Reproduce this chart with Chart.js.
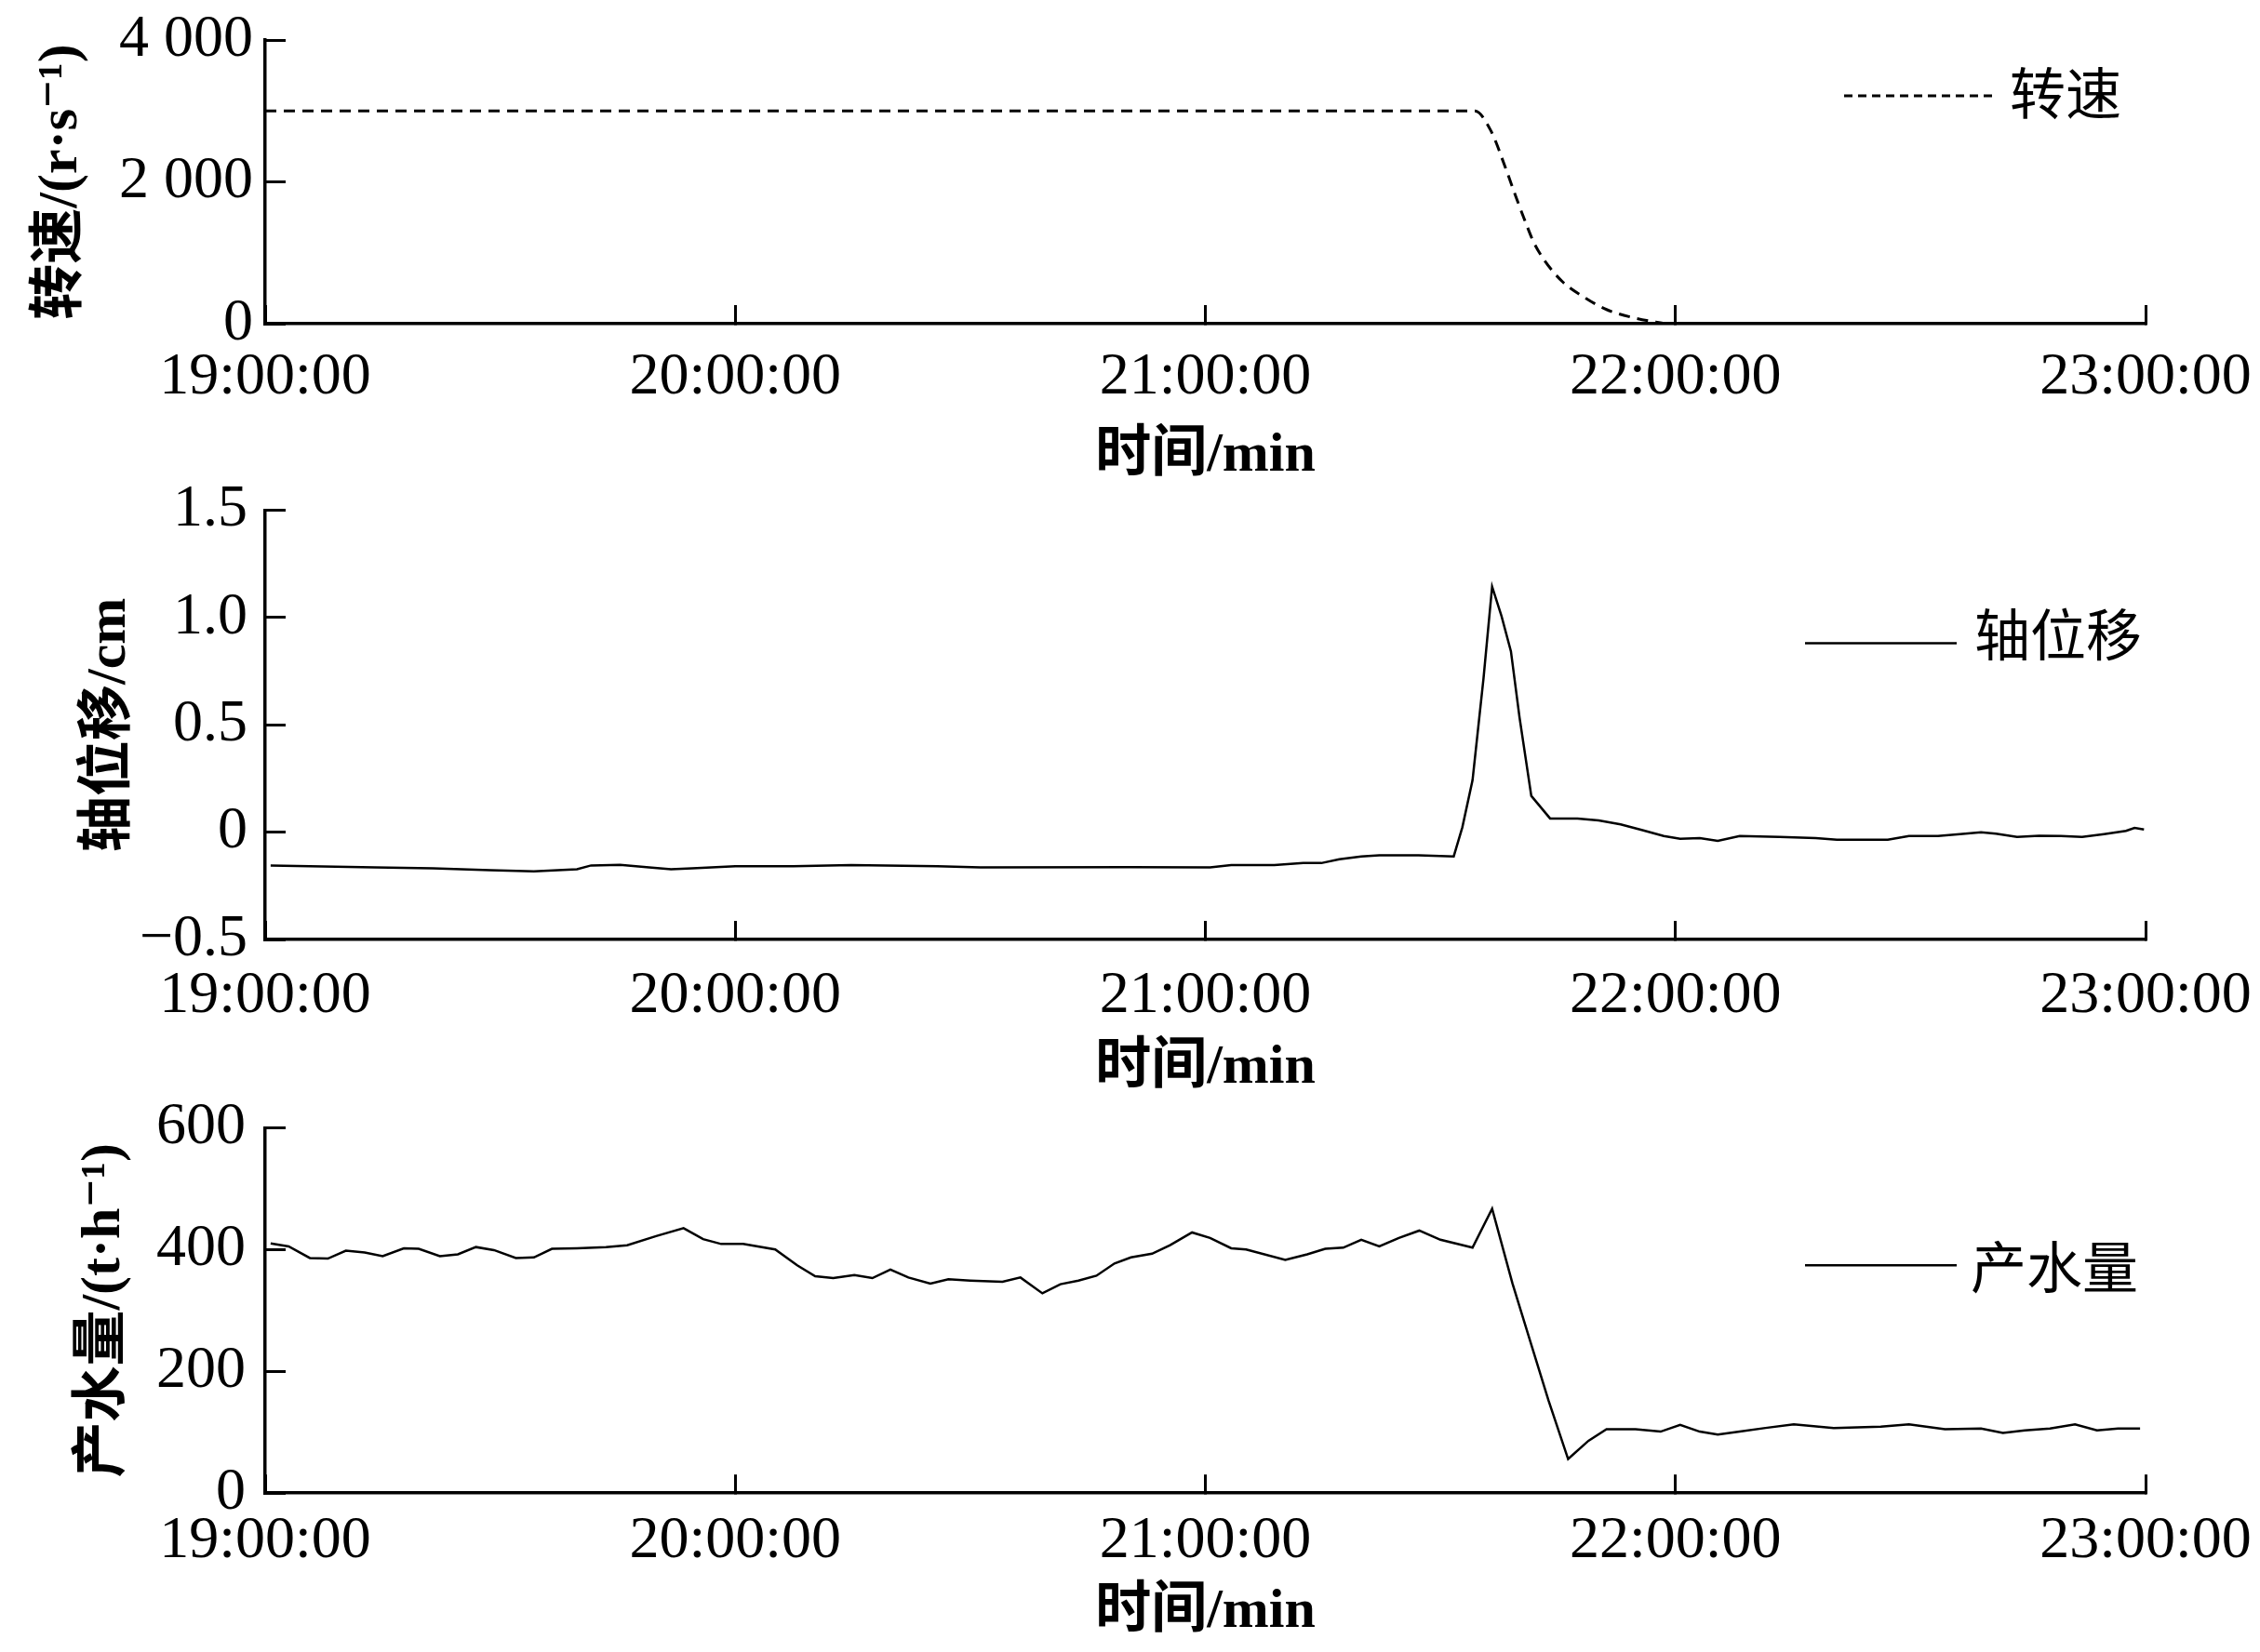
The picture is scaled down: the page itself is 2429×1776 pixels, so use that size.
<!DOCTYPE html>
<html>
<head>
<meta charset="utf-8">
<script src="https://cdn.jsdelivr.net/npm/chart.js@4.4.1/dist/chart.umd.min.js"></script>
<style>
  html, body { margin: 0; padding: 0; background: #fff; }
  #wrap { position: relative; width: 2429px; height: 1776px; background: #fff; }
  canvas { position: absolute; left: 0; }
</style>
</head>
<body>
<div id="wrap">
  <canvas id="speed" width="2429" height="526" style="top:0px"></canvas>
  <canvas id="disp" width="2429" height="684" style="top:500px"></canvas>
  <canvas id="flow" width="2429" height="602" style="top:1167px"></canvas>
</div>
<script>
// three stacked panels sharing the 19:00–23:00 time axis (minutes from 19:00)

const timeTickLabels = ['19:00:00', '20:00:00', '21:00:00', '22:00:00', '23:00:00'];

// 转速
const speedTimes  = [0, 154.4, 156.4, 158.3, 159.7, 160.9, 161.9, 163.3, 165.6, 168.4, 171.2, 174.8, 178.8];
const speedValues = [3000, 3000, 2730, 2200, 1770, 1420, 1150, 890, 590, 370, 200, 80, 0];
const speedTickLabels = ['0', '2 000', '4 000'];

// 轴位移
const dispTimes = [0.7, 14, 21.4, 28.7, 34.3, 39.8, 41.6, 45.3, 49, 51.8,
  54.5, 60, 67.4, 74.8, 85.8, 91.3, 110.4, 120.6, 123.3, 128.8,
  132.5, 134.8, 137.1, 139.9, 142.2, 147.2, 151.7, 152.8, 154.1, 155.5,
  156.6, 157.8, 159.0, 160.1, 161.6, 164.0, 167.5, 170.2, 173.0, 175.8,
  178.5, 180.6, 183.1, 185.4, 188.2, 193.3, 197.9, 200.6, 207.1, 209.8,
  213.5, 216.3, 219.0, 220.9, 223.6, 226.4, 229.2, 231.9, 234.7, 237.5,
  238.6, 239.8];
const dispValues = [-0.155, -0.164, -0.168, -0.177, -0.182, -0.173, -0.155, -0.152, -0.164, -0.173,
  -0.168, -0.159, -0.159, -0.153, -0.159, -0.164, -0.163, -0.164, -0.153, -0.153,
  -0.144, -0.144, -0.126, -0.113, -0.108, -0.108, -0.113, 0.023, 0.242, 0.716,
  1.144, 1.007, 0.843, 0.534, 0.169, 0.064, 0.064, 0.055, 0.036, 0.009,
  -0.018, -0.031, -0.028, -0.040, -0.018, -0.022, -0.028, -0.035, -0.035, -0.018,
  -0.018, -0.009, 0.000, -0.007, -0.022, -0.017, -0.018, -0.022, -0.009, 0.006,
  0.020, 0.013];
const dispTickLabels = ['\u22120.5', '0', '0.5', '1.0', '1.5'];

// 产水量
const flowTimes = [0.7, 3, 5.7, 8, 10.3, 12.7, 15, 17.7, 19.6, 22.3,
  24.6, 26.9, 29.2, 32, 34.3, 36.6, 39.8, 43.5, 46.2, 49.9,
  53.4, 55.9, 58.2, 61, 65.1, 67.9, 70.2, 72.5, 75.2, 77.5,
  79.8, 82.1, 84.9, 87.2, 90, 94.1, 96.4, 99.2, 101.5, 103.8,
  106.1, 108.4, 110.5, 113.2, 115.5, 118.3, 120.6, 123.3, 125.2, 130.2,
  133, 135.3, 137.6, 139.9, 142.2, 144.7, 147.3, 150, 154.1, 156.6,
  159.2, 161.5, 163.8, 166.3, 168.9, 171.2, 174.9, 178.1, 180.6, 183.1,
  185.4, 188.2, 191.5, 195.1, 200.2, 206.2, 209.8, 214.4, 219, 221.8,
  224.6, 227.8, 231, 233.8, 236.5, 239.3];
const flowValues = [410, 405, 386, 385, 398, 395, 389, 402, 401, 389,
  392, 404, 399, 386, 387, 401, 402, 404, 407, 422,
  435, 417, 409, 409, 400, 374, 356, 353, 358, 353,
  367, 354, 344, 351, 349, 347, 354, 328, 343, 349,
  357, 377, 387, 393, 407, 428, 419, 402, 400, 383,
  392, 401, 403, 416, 405, 419, 431, 416, 403, 467,
  344, 248, 152, 56, 86, 105, 105, 101, 112, 101,
  96, 101, 107, 113, 107, 109, 113, 105, 106, 99,
  103, 106, 113, 103, 106, 106];
const flowTickLabels = ['0', '200', '400', '600'];

// ── styling ──
const SERIF = "'Liberation Serif', 'DejaVu Serif', 'Noto Sans CJK SC', serif";
const TICK_FONT = { family: SERIF, size: 64, weight: 'normal', lineHeight: 1.2 };
const X_TITLE_FONT = { family: SERIF, size: 60, weight: 'bold', lineHeight: 1.2 };
const Y_TITLE_FONT = { family: SERIF, size: 60, weight: 'bold', lineHeight: 1.2 };
const AXIS_W = 3.5;

function zip(xs, ys) {
  return xs.map((x, i) => ({ x, y: ys[i] }));
}

// keep the plot box fixed: labels may overhang into the outer margins
function noPad(s) {
  s.paddingTop = 0; s.paddingBottom = 0; s.paddingLeft = 0; s.paddingRight = 0;
}

// legend drawn inside the plot, offsets measured from the chart area's top/right
const lineKey = {
  id: 'lineKey',
  afterDatasetsDraw(chart, args, opts) {
    const ds = chart.data.datasets[0];
    const { ctx, chartArea } = chart;
    const y = chartArea.top + opts.lineY;
    ctx.save();
    ctx.strokeStyle = '#000';
    ctx.lineWidth = opts.lineWidth;
    ctx.setLineDash(opts.dash || []);
    ctx.beginPath();
    ctx.moveTo(chartArea.right + opts.x1, y);
    ctx.lineTo(chartArea.right + opts.x2, y);
    ctx.stroke();
    ctx.setLineDash([]);
    ctx.fillStyle = '#000';
    ctx.font = "normal 60px 'Liberation Serif', 'Noto Sans CJK SC', sans-serif";
    ctx.textBaseline = 'middle';
    ctx.textAlign = 'left';
    ctx.fillText(ds.label, chartArea.right + opts.textX, chartArea.top + opts.textY);
    ctx.restore();
  }
};

function timeAxis(tickPad, axisH) {
  return {
    type: 'linear', min: 0, max: 240,
    afterFit: s => { s.height = axisH; noPad(s); },
    border: { display: true, color: '#000', width: AXIS_W },
    grid: { display: true, drawOnChartArea: false, drawTicks: true, tickLength: -20, tickWidth: 3, tickColor: '#000' },
    ticks: {
      stepSize: 60, autoSkip: false, maxRotation: 0, padding: tickPad, color: '#000', font: TICK_FONT,
      callback: (v, i) => timeTickLabels[i]
    },
    title: { display: true, text: '时间/min', color: '#000', font: X_TITLE_FONT, padding: { top: 0, bottom: 0 } }
  };
}

function valueAxis(min, max, step, labels, title, tickPad, titlePad) {
  return {
    min, max,
    afterFit: s => { s.width = 285; noPad(s); },
    border: { display: true, color: '#000', width: AXIS_W },
    grid: { display: true, drawOnChartArea: false, drawTicks: true, tickLength: -22, tickWidth: 3, tickColor: '#000' },
    ticks: {
      stepSize: step, autoSkip: false, padding: tickPad, color: '#000', font: TICK_FONT,
      callback: (v, i) => labels[i]
    },
    title: { display: true, text: title, color: '#000', font: Y_TITLE_FONT, padding: { top: titlePad, bottom: 0 } }
  };
}

function renderPanel(id, dataset, x, y, padTop, key) {
  return new Chart(document.getElementById(id), {
    type: 'line',
    data: { datasets: [dataset] },
    options: {
      responsive: false,
      animation: false,
      layout: { padding: { left: 0, right: 123, top: padTop, bottom: 0 } },
      plugins: { legend: { display: false }, tooltip: { enabled: false }, lineKey: key },
      scales: { x, y }
    },
    plugins: [lineKey]
  });
}

renderPanel('speed', {
  label: '转速',
  data: zip(speedTimes, speedValues),
  borderColor: '#000', borderWidth: 3, borderDash: [12, 8],
  pointRadius: 0, fill: false, cubicInterpolationMode: 'monotone'
}, timeAxis(39.4, 178), valueAxis(0, 4000, 2000, speedTickLabels, '转速/(r·s\u207B\u00B9)', 35, 30), 43,
  { x1: -324, x2: -165, lineY: 60, textX: -146, textY: 64, dash: [9, 6], lineWidth: 3 });

renderPanel('disp', {
  label: '轴位移',
  data: zip(dispTimes, dispValues),
  borderColor: '#000', borderWidth: 2.5,
  pointRadius: 0, fill: false, tension: 0
}, timeAxis(42.6, 174), valueAxis(-0.5, 1.5, 0.5, dispTickLabels, '轴位移/cm', 41, 82), 48.6,
  { x1: -366, x2: -203, lineY: 143, textX: -184, textY: 141, lineWidth: 2.5 });

renderPanel('flow', {
  label: '产水量',
  data: zip(flowTimes, flowValues),
  borderColor: '#000', borderWidth: 2.5,
  pointRadius: 0, fill: false, tension: 0
}, timeAxis(33.6, 163.8), valueAxis(0, 600, 200, flowTickLabels, '产水量/(t·h\u207B\u00B9)', 43, 76), 45.3,
  { x1: -366, x2: -203, lineY: 148, textX: -188, textY: 157, lineWidth: 2.5 });
</script>
</body>
</html>
